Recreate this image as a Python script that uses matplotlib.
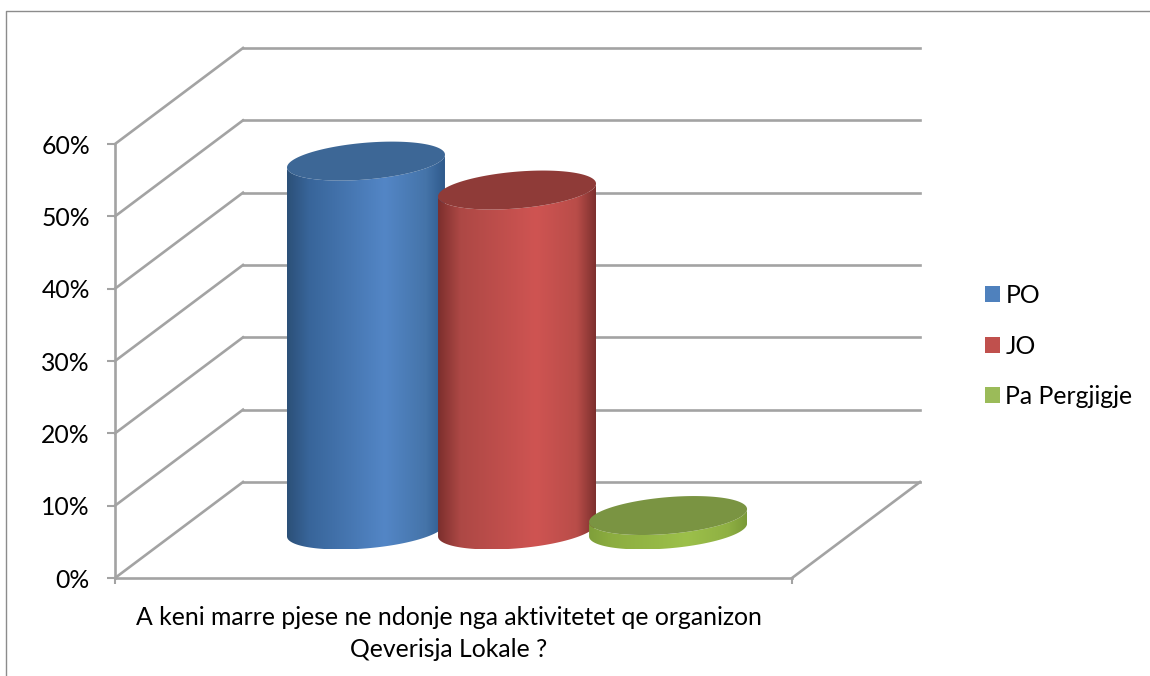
import numpy as np
import matplotlib
matplotlib.use('Agg')
import matplotlib.pyplot as plt
from matplotlib.patches import Polygon, Patch
from matplotlib.lines import Line2D
from matplotlib.colors import LinearSegmentedColormap

plt.rcParams['font.family'] = ['Lato', 'DejaVu Sans']

categories = ['PO', 'JO', 'Pa Pergjigje']
values = [51, 47, 2]
yticks = [0, 10, 20, 30, 40, 50, 60]
ylabels = ['0%', '10%', '20%', '30%', '40%', '50%', '60%']
title = 'A keni marre pjese ne ndonje nga aktivitetet qe organizon\nQeverisja Lokale ?'
centers = [0.2762, 0.4993, 0.7224]
legend_colors = ['#4f81bd', '#c0504d', '#9bbb59']
stops = [0, 0.14, 0.62, 0.88, 1]
side_colors = [['#2c5078', '#38659a', '#5386c6', '#4574a9', '#2f5a8c'],
               ['#7c2f2d', '#ad4845', '#cf5452', '#b94d49', '#7d302e'],
               ['#7f9f3a', '#8cad40', '#9cc04a', '#8fb043', '#7a9a38']]
top_colors = ['#3d6796', '#8f3b38', '#7a9442']
wall_color = '#a3a3a3'
font_size = 17.8

W = 1150.0; H = 676.0
x0 = 115; x1 = 792; y0 = 578; y60 = 144
# depth of the box, in axis units
dx = 128.0/(x1-x0)
dy = 96.0/(y0-y60)*60

def proj(x, y, d):
    return x+d*dx, y+d*dy

fig = plt.figure(figsize=(W/100, H/100), dpi=100)
ax = fig.add_axes([x0/W, 1-y0/H, (x1-x0)/W, (y0-y60)/H])
ax.set_xlim(0, 1); ax.set_ylim(0, 60)

# outer frame of the chart
fig.add_artist(Line2D([6/W, 6/W, 1], [0, 1-11/H, 1-11/H], color='#8c8c8c', lw=1.0))

# walls
for v in yticks:
    xa, ya = proj(0, v, 1)
    xb, yb = proj(1, v, 1)
    ax.plot([0, xa], [v, ya], color=wall_color, lw=1.9, zorder=1, clip_on=False)
    ax.plot([xa, xb], [ya, yb], color=wall_color, lw=1.9, zorder=1, clip_on=False)
xb, yb = proj(1, 0, 1)
ax.plot([1, xb], [0, yb], color=wall_color, lw=1.9, zorder=1, clip_on=False)

# cylinders
a = 74.6/(x1-x0)
k = 0.203
tmax = np.arctan2(k*dx, a)

def ellipse(cx, v, t):
    return proj(cx+a*np.cos(t), v, 0.5)[0]+k*dx*np.sin(t), v+0.5*dy+k*dy*np.sin(t)

for i in range(len(values)):
    cx = centers[i]; v = values[i]
    t_front = np.linspace(tmax-np.pi, tmax, 80)
    t_all = np.linspace(0, 2*np.pi, 160)
    bx, by = ellipse(cx, 0, t_front)
    tx, ty = ellipse(cx, v, t_front[::-1])
    body = Polygon(np.column_stack([np.r_[bx, tx], np.r_[by, ty]]), closed=True,
                   transform=ax.transData, fc='none', ec='none')
    ax.add_patch(body)
    cmap = LinearSegmentedColormap.from_list('side%d' % i, list(zip(stops, side_colors[i])))
    grad = np.linspace(0, 1, 256).reshape(1, -1)
    left = bx.min(); right = bx.max()
    im = ax.imshow(grad, cmap=cmap, aspect='auto', zorder=3+i, interpolation='bilinear',
                   extent=[left, right, by.min(), ty.max()+1])
    im.set_clip_path(body)
    ex, ey = ellipse(cx, v, t_all)
    ax.add_patch(Polygon(np.column_stack([ex, ey]), closed=True, fc=top_colors[i],
                         ec='none', zorder=3+i+0.5, clip_on=False))
ax.set_xlim(0, 1); ax.set_ylim(0, 60)

# axes
for s in ['top', 'right']:
    ax.spines[s].set_visible(False)
for s in ['left', 'bottom']:
    ax.spines[s].set_color(wall_color)
    ax.spines[s].set_linewidth(1.9)
ax.set_yticks(yticks)
ax.set_yticklabels(ylabels, fontsize=font_size, color='black')
ax.set_xticks([0, 1])
ax.set_xticklabels(['', ''])
ax.tick_params(axis='y', color=wall_color, width=1.5, length=6, pad=12)
ax.tick_params(axis='x', color=wall_color, width=1.5, length=4)
ax.set_xlabel(title, fontsize=font_size, color='black', linespacing=1.5)
ax.xaxis.set_label_coords((449-x0)/(x1-x0), -0.064, transform=ax.transAxes)
ax.xaxis.label.set_verticalalignment('top')

# legend
handles = [Patch(fc=c, ec='none') for c in legend_colors]
fig.legend(handles, categories, loc='center left', bbox_to_anchor=(985/W, 1-346/H),
           frameon=False, fontsize=font_size, handlelength=0.62, handleheight=0.62,
           handletextpad=0.2, labelspacing=1.12, borderpad=0, borderaxespad=0)

fig.savefig('out.png', dpi=100)
